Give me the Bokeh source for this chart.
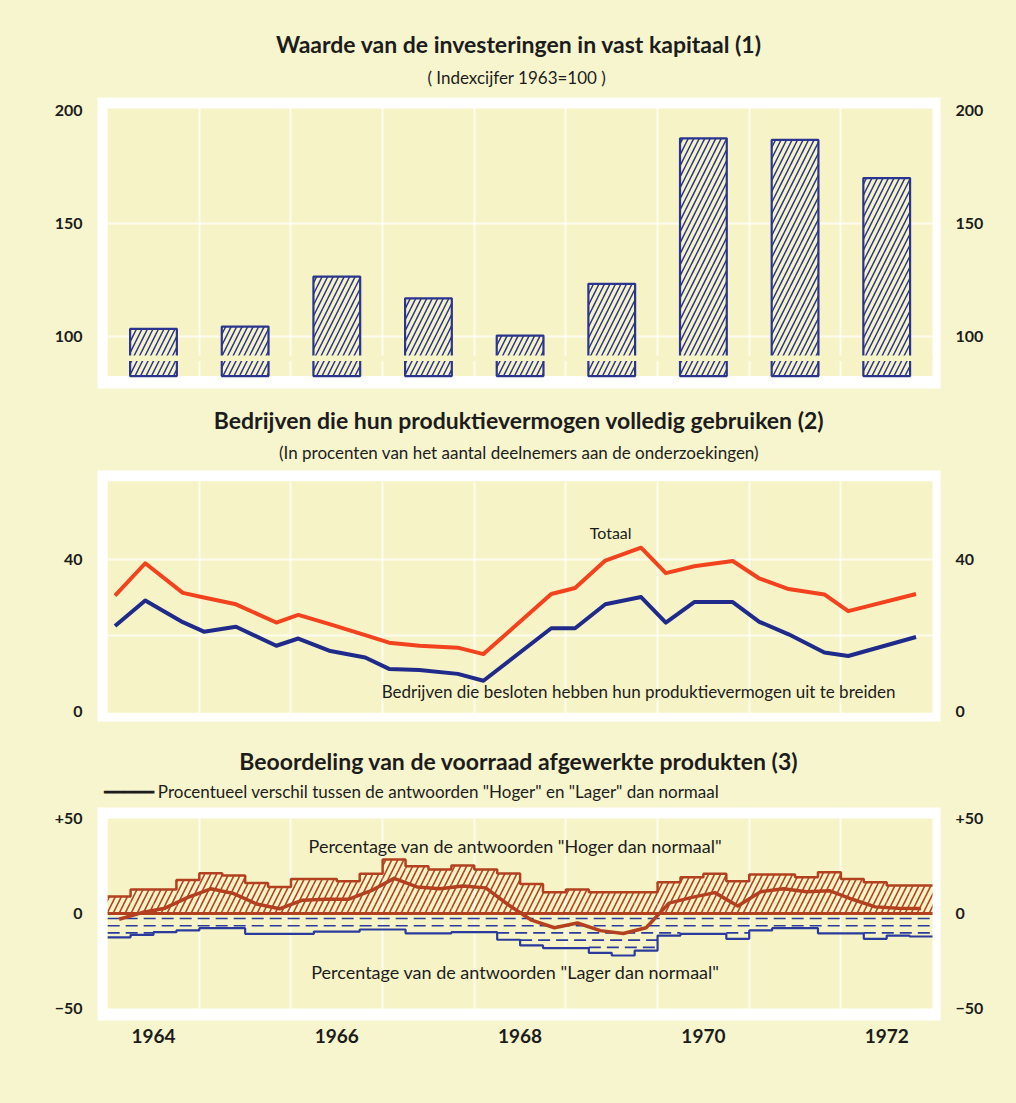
from bokeh.plotting import figure
from bokeh.layouts import column
from bokeh.models import (LinearAxis, FixedTicker, BoxAnnotation, Title, Label, Range1d)
from bokeh.embed import file_html
from bokeh.resources import INLINE

# ---------------- data ----------------
# Chart 1: Waarde van de investeringen in vast kapitaal (index 1963=100)
inv_years = [1964, 1965, 1966, 1967, 1968, 1969, 1970, 1971, 1972]
inv_index = [103.4, 104.4, 126.5, 116.9, 100.4, 123.3, 187.7, 187.0, 170.1]
inv_ticks = [100, 150, 200]
inv_tick_labels = ["100", "150", "200"]

# Chart 2: Bedrijven die hun produktievermogen volledig gebruiken (%)
cap_time = [1964.08, 1964.41, 1964.82, 1965.05, 1965.40, 1965.84, 1966.08, 1966.43,
            1966.81, 1967.07, 1967.40, 1967.82, 1968.10, 1968.84, 1969.10, 1969.43,
            1969.82, 1970.09, 1970.40, 1970.82, 1971.11, 1971.43, 1971.82, 1972.08,
            1972.82]
cap_total = [30.5, 39.0, 31.2, 30.0, 28.2, 23.4, 25.4, 22.9, 20.1, 18.1, 17.3, 16.8,
             15.1, 30.9, 32.5, 39.7, 43.1, 36.4, 38.2, 39.6, 35.0, 32.2, 30.8, 26.4,
             30.9]
cap_expand = [22.5, 29.2, 23.5, 21.0, 22.3, 17.3, 19.2, 15.9, 14.2, 11.2, 10.9, 9.9,
              8.1, 21.9, 21.9, 28.2, 30.1, 23.4, 28.8, 28.8, 23.6, 20.3, 15.5, 14.6,
              19.6]
cap_ticks = [0, 40]
cap_tick_labels = ["0", "40"]

# Chart 3: Beoordeling van de voorraad afgewerkte produkten (quarterly, %)
stock_years = [1964, 1965, 1966, 1967, 1968, 1969, 1970, 1971, 1972]
stock_hoger = [8.9, 12.6, 12.6, 17.7,
               21.2, 20.0, 16.0, 13.9,
               18.2, 18.2, 17.0, 20.9,
               28.4, 24.9, 23.2, 25.3,
               23.2, 21.1, 15.6, 11.2,
               12.6, 11.2, 11.2, 11.2,
               16.5, 19.1, 20.9, 17.0,
               20.5, 20.5, 19.1, 21.7,
               18.2, 16.5, 14.7, 14.7]
stock_lager = [-12.5, -11.2, -9.8, -8.9,
               -7.7, -7.7, -10.7, -10.7,
               -10.7, -9.5, -9.5, -8.4,
               -8.4, -10.4, -10.4, -9.8,
               -9.8, -13.8, -16.8, -18.2,
               -18.2, -20.7, -22.1, -19.5,
               -11.6, -10.7, -10.7, -13.3,
               -8.9, -7.7, -7.7, -10.4,
               -10.4, -13.3, -11.6, -12.1]
stock_saldo = [-3.0, 0.5, 2.8, 8.5,
               13.0, 10.5, 5.0, 2.5,
               7.0, 7.5, 7.5, 12.0,
               18.5, 14.0, 13.0, 14.5,
               13.5, 4.5, -3.5, -7.5,
               -5.0, -9.0, -10.5, -7.5,
               5.5, 8.5, 11.0, 4.0,
               11.5, 13.0, 11.5, 12.0,
               7.5, 3.5, 2.8, 2.6]
stock_ticks = [-50, 0, 50]
stock_tick_labels = ["\u221250", "0", "+50"]

year_labels = ["1964", "1966", "1968", "1970", "1972"]

# ---------------- style ----------------
PAGE = "#f7f5cd"
INNER = "#f6f4c6"
TEXT = "#1c1c1c"
NAVY = "#2b3590"
RED = "#f2421e"
BLUE = "#1f2a8a"
BROWN = "#b3401f"
SBLUE = "#2b3a9c"
FONT = "Lato"
X_RANGE = (1963.889, 1973.087)
X_INNER = (1964.0, 1973.0)
GRID_X = [1965, 1966, 1967, 1968, 1969, 1970, 1971, 1972]


def style_axis(ax, ticks, labels, size="16px"):
    ax.ticker = FixedTicker(ticks=ticks)
    ax.major_label_overrides = {t: l for t, l in zip(ticks, labels)}
    ax.axis_line_color = None
    ax.major_tick_line_color = None
    ax.minor_tick_line_color = None
    ax.major_label_text_font = FONT
    ax.major_label_text_font_size = size
    ax.major_label_text_font_style = "bold"
    ax.major_label_text_color = TEXT
    ax.major_label_standoff = 9


def make_fig(height, yr, inner, btop, bbot, ticks, labels, gridy, x_axis=False):
    p = figure(width=1008, height=height,
               x_range=Range1d(*X_RANGE), y_range=Range1d(*yr),
               output_backend="svg", toolbar_location=None,
               x_axis_location="below" if x_axis else None, y_axis_location="left",
               min_border_left=97, min_border_right=68,
               min_border_top=btop, min_border_bottom=bbot,
               background_fill_color="white", border_fill_color=PAGE,
               outline_line_color=None)
    p.add_layout(BoxAnnotation(left=X_INNER[0], right=X_INNER[1],
                               bottom=inner[0], top=inner[1],
                               fill_color=INNER, fill_alpha=1.0, line_alpha=0,
                               level="image"))
    p.xgrid.ticker = FixedTicker(ticks=GRID_X)
    p.ygrid.ticker = FixedTicker(ticks=gridy)
    for g in (p.xgrid, p.ygrid):
        g.grid_line_color = "white"
        g.grid_line_width = 2
        g.grid_line_alpha = 0.7
    style_axis(p.yaxis[0], ticks, labels)
    right = LinearAxis()
    style_axis(right, ticks, labels)
    p.add_layout(right, "right")
    return p


def add_title(p, text, size, bold, standoff, align="center", offset=0):
    p.add_layout(Title(text=text, align=align, offset=offset, text_font=FONT,
                       text_font_size=size,
                       text_font_style="bold" if bold else "normal",
                       text_color=TEXT, standoff=standoff), "above")


# ---------------- chart 1 ----------------
p1 = make_fig(398, (77.0, 205.75), (82.5, 200.9), 97, 10,
              inv_ticks, inv_tick_labels, [100, 150])
p1.vbar(x=[y + 0.5 for y in inv_years], top=inv_index, bottom=82.5, width=0.51,
        fill_color=INNER, line_color=NAVY, line_width=2.2,
        hatch_pattern="/", hatch_color=NAVY, hatch_scale=11, hatch_weight=1.5)
p1.add_layout(BoxAnnotation(left=X_INNER[0], right=X_INNER[1], bottom=89.2, top=91.6,
                            fill_color=INNER, fill_alpha=1.0, line_alpha=0))
add_title(p1, "( Indexcijfer  1963=100 )", "17px", False, 19)
add_title(p1, "Waarde van de investeringen in vast kapitaal (1)", "23px", True, -5)

# ---------------- chart 2 ----------------
p2 = make_fig(337, (-2.63, 63.4), (-0.3, 60.6), 72, 14,
              cap_ticks, cap_tick_labels, [20, 40])
p2.line(cap_time, cap_total, line_color=RED, line_width=4, line_join="round")
p2.line(cap_time, cap_expand, line_color=BLUE, line_width=4, line_join="round")
p2.add_layout(Label(x=1969.26, y=47.1, text="Totaal", text_font=FONT,
                    text_font_size="16px", text_color=TEXT, text_baseline="middle"))
p2.add_layout(Label(x=1966.99, y=5.3,
                    text="Bedrijven die besloten hebben hun produktievermogen uit te breiden",
                    text_font=FONT, text_font_size="17px", text_color=TEXT,
                    text_baseline="middle"))
add_title(p2, "(In procenten van het aantal deelnemers aan de onderzoekingen)",
          "17px", False, 16)
add_title(p2, "Bedrijven die hun produktievermogen volledig gebruiken (2)", "23px", True, -5)

# ---------------- chart 3 ----------------
p3 = make_fig(320, (-56.3, 55.8), (-50.0, 50.0), 72, 35,
              stock_ticks, stock_tick_labels, [], x_axis=True)
q_start = [y + q * 0.25 for y in stock_years for q in range(4)]
q_end = [s + 0.25 for s in q_start]
q_mid = [s + 0.125 for s in q_start]

# "Hoger dan normaal": hatched step area
p3.quad(left=q_start, right=q_end, bottom=0, top=stock_hoger,
        fill_alpha=0, line_alpha=0,
        hatch_pattern="/", hatch_color=BROWN, hatch_scale=12, hatch_weight=1.6)
p3.step(q_start + [q_end[-1]], stock_hoger + [stock_hoger[-1]], mode="after",
        line_color=BROWN, line_width=2.5)

# "Lager dan normaal": dashed fill, drawn as dashed rows inside the step area
for k in range(6):
    lev = -2.6 - 3.8 * k
    xs, ys = [], []
    run = None
    for i, v in enumerate(stock_lager):
        if v <= lev - 0.6:
            if run is None:
                run = [q_start[i], q_end[i]]
            else:
                run[1] = q_end[i]
        else:
            if run is not None:
                xs.append(run); ys.append([lev, lev]); run = None
    if run is not None:
        xs.append(run); ys.append([lev, lev])
    if xs:
        p3.multi_line(xs, ys, line_color=SBLUE, line_width=1.6, line_dash="12 6")
p3.step(q_start + [q_end[-1]], stock_lager + [stock_lager[-1]], mode="after",
        line_color=SBLUE, line_width=2.2)

# zero base line
p3.line([q_start[0], q_end[-1]], [0, 0], line_color=BROWN, line_width=3)
# difference line
p3.line(q_mid, stock_saldo, line_color=BROWN, line_width=3.5, line_join="round")

p3.add_layout(Label(x=1968.45, y=35.8,
                    text='Percentage van de antwoorden "Hoger dan normaal"',
                    text_font=FONT, text_font_size="18px", text_color=TEXT,
                    text_align="center", text_baseline="middle"))
p3.add_layout(Label(x=1968.45, y=-31.0,
                    text='Percentage van de antwoorden "Lager dan normaal"',
                    text_font=FONT, text_font_size="18px", text_color=TEXT,
                    text_align="center", text_baseline="middle"))

# x axis
xa = p3.xaxis[0]
x_ticks = [int(s) + 0.5 for s in year_labels]
xa.ticker = FixedTicker(ticks=x_ticks)
xa.major_label_overrides = {t: s for t, s in zip(x_ticks, year_labels)}
xa.axis_line_color = None
xa.major_tick_line_color = None
xa.minor_tick_line_color = None
xa.major_label_text_font = FONT
xa.major_label_text_font_size = "19px"
xa.major_label_text_font_style = "bold"
xa.major_label_text_color = TEXT
xa.major_label_standoff = 2

# legend line + text above the plot
add_title(p3, '\u2501\u2501\u2501\u2501\u2501 Procentueel verschil tussen de antwoorden "Hoger" en "Lager" dan normaal',
          "17px", False, 12, align="left", offset=6)
add_title(p3, "Beoordeling van de voorraad afgewerkte produkten (3)", "23px", True, -5)

layout = column(p1, p2, p3, spacing=0, styles={"background-color": PAGE})
html = file_html(layout, INLINE)
html = html.replace("</head>", "<style>html,body{background:%s;}</style></head>" % PAGE, 1)
open("out.html", "w").write(html)
